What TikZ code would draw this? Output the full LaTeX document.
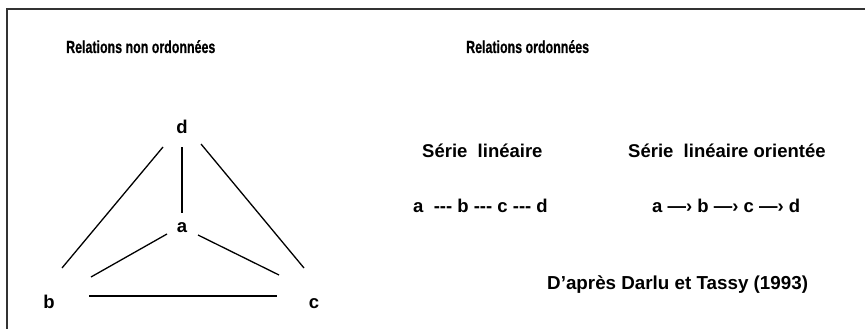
\documentclass[tikz,border=0pt]{standalone}
\usepackage{fontspec}
\setmainfont{Liberation Sans}
\newfontfamily\headfont[FakeStretch=0.71,FakeBold=0.6]{Liberation Sans}
\begin{document}
\begin{tikzpicture}[x=1pt,y=-1pt,
  txt/.style={inner sep=0pt,font=\fontsize{18.5}{20}\selectfont\bfseries},
  lbl/.style={txt,anchor=base west},
  head/.style={lbl,font=\headfont\fontsize{17.5}{19}\selectfont\bfseries},
  letter/.style={txt,anchor=base},
  edge/.style={line width=1.3pt,black},
  frame/.style={line width=2pt,draw=black!80}]
\useasboundingbox (0,0) rectangle (865,329);
\draw[frame] (866,9) -- (7,9) -- (7,330);
% titles
\node[head] (t1) at (66,53) {Relations non ordonnées};
\node[head] (t2) at (466,53) {Relations ordonnées};
\node[lbl] (s1) at (422,157) {Série\ \ linéaire};
\node[lbl] (s2) at (628,157) {Série\ \ linéaire orientée};
\node[lbl] (r1) at (413,212) {a\ \ -\kern0pt-\kern0pt- b -\kern0pt-\kern0pt- c -\kern0pt-\kern0pt- d};
\node[lbl] (r2) at (652,212) {a —› b —› c —› d};
\node[lbl,font=\fontsize{18.8}{20}\selectfont\bfseries] (ref) at (547,289) {D'après Darlu et Tassy (1993)};
% graph
\node[letter] (d) at (182,133) {d};
\node[letter] (a) at (182,232) {a};
\node[letter] (b) at (49,308) {b};
\node[letter] (c) at (314,308) {c};
\coordinate (db1) at (163,147); \coordinate (db2) at (62,268);
\coordinate (da1) at (182,147); \coordinate (da2) at (182,213);
\coordinate (dc1) at (201,144); \coordinate (dc2) at (304,268);
\coordinate (ab1) at (167,234); \coordinate (ab2) at (91,277);
\coordinate (ac1) at (198,235); \coordinate (ac2) at (279,275);
\coordinate (bc1) at (89,296); \coordinate (bc2) at (277,296);
\draw[edge] (db1) -- (db2);
\draw[edge] (da1) -- (da2);
\draw[edge] (dc1) -- (dc2);
\draw[edge] (ab1) -- (ab2);
\draw[edge] (ac1) -- (ac2);
\draw[edge] (bc1) -- (bc2);
\end{tikzpicture}
\end{document}
